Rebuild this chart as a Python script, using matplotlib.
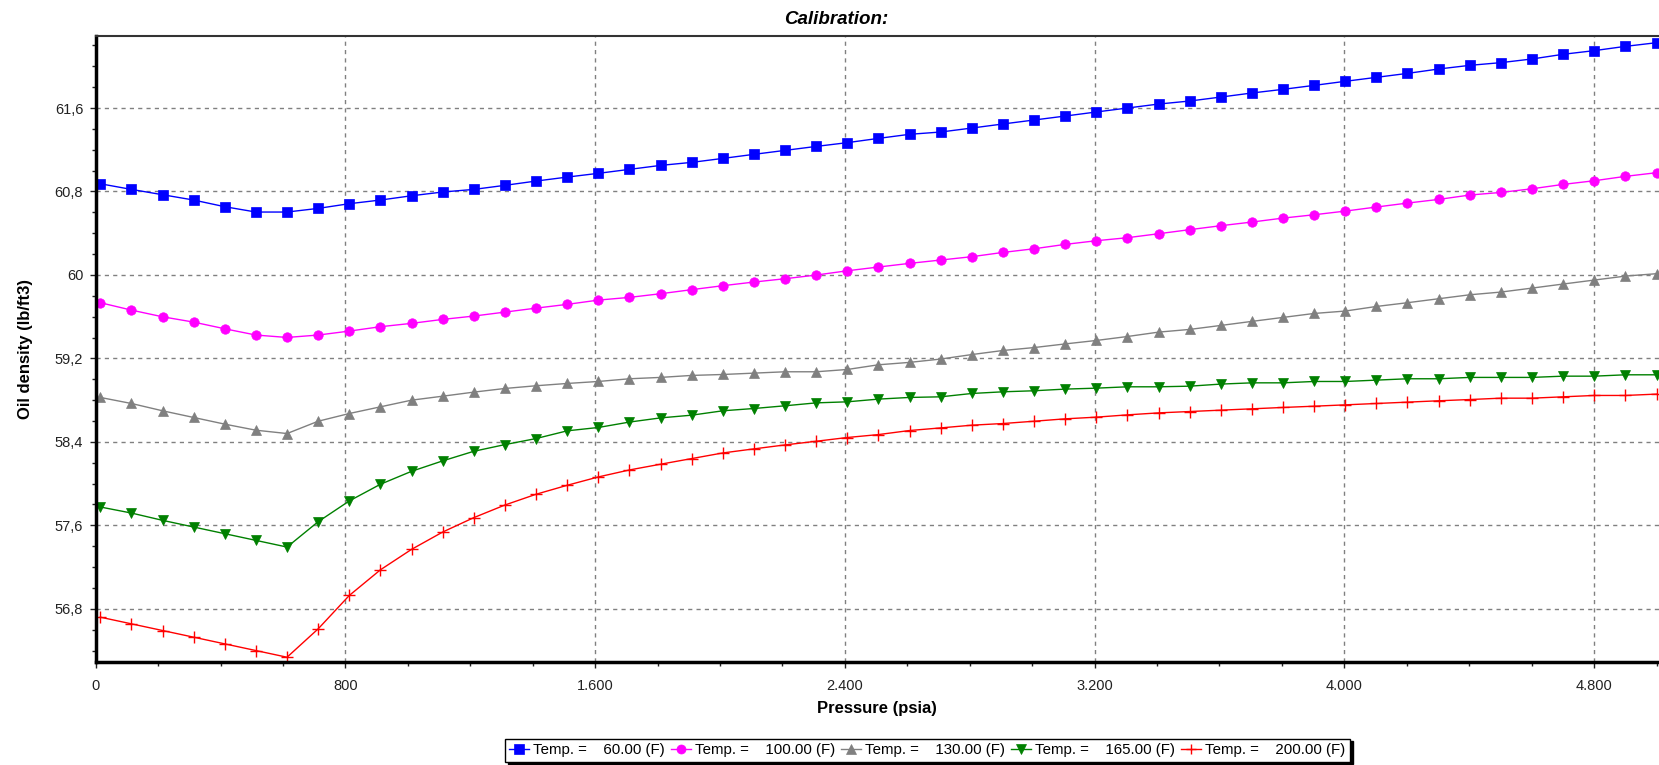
import matplotlib
matplotlib.use("Agg")
import matplotlib.pyplot as plt
from matplotlib.ticker import FixedLocator, MultipleLocator

plt.rcParams['font.family'] = ['Liberation Sans', 'DejaVu Sans']

# pressure grid (psia), 51 points from 14.7 to 5000
pressure = [14.7, 114.4, 214.1, 313.8, 413.5, 513.2, 612.9, 712.6, 812.3, 912.1,
            1011.8, 1111.5, 1211.2, 1310.9, 1410.6, 1510.3, 1610.0, 1709.7, 1809.4, 1909.1,
            2008.8, 2108.5, 2208.2, 2307.9, 2407.6, 2507.4, 2607.1, 2706.8, 2806.5, 2906.2,
            3005.9, 3105.6, 3205.3, 3305.0, 3404.7, 3504.4, 3604.1, 3703.8, 3803.5, 3903.2,
            4002.9, 4102.6, 4202.3, 4302.0, 4401.8, 4501.5, 4601.2, 4700.9, 4800.6, 4900.3,
            5000.0]

temps = [60, 100, 130, 165, 200]

# oil density (lb/ft3) per temperature
dens_60 = [60.874, 60.820, 60.769, 60.718, 60.654, 60.603, 60.603, 60.638, 60.683, 60.718,
           60.759, 60.795, 60.820, 60.859, 60.900, 60.938, 60.974, 61.012, 61.050, 61.079,
           61.117, 61.156, 61.194, 61.232, 61.268, 61.309, 61.348, 61.370, 61.408, 61.447,
           61.485, 61.523, 61.562, 61.600, 61.638, 61.667, 61.705, 61.744, 61.779, 61.817,
           61.856, 61.894, 61.932, 61.974, 62.009, 62.035, 62.070, 62.115, 62.150, 62.191,
           62.226]
dens_100 = [59.734, 59.663, 59.599, 59.548, 59.484, 59.424, 59.401, 59.424, 59.462, 59.504,
            59.536, 59.574, 59.606, 59.644, 59.682, 59.718, 59.759, 59.785, 59.820, 59.859,
            59.897, 59.932, 59.964, 59.999, 60.040, 60.076, 60.111, 60.143, 60.175, 60.216,
            60.251, 60.293, 60.328, 60.357, 60.395, 60.434, 60.472, 60.507, 60.545, 60.577,
            60.612, 60.651, 60.689, 60.724, 60.766, 60.791, 60.826, 60.868, 60.903, 60.945,
            60.980]
dens_130 = [58.826, 58.768, 58.698, 58.634, 58.570, 58.512, 58.480, 58.598, 58.672, 58.736,
            58.800, 58.838, 58.877, 58.912, 58.938, 58.960, 58.979, 59.005, 59.018, 59.037,
            59.046, 59.059, 59.072, 59.072, 59.094, 59.139, 59.162, 59.194, 59.237, 59.276,
            59.304, 59.339, 59.372, 59.410, 59.452, 59.478, 59.516, 59.555, 59.593, 59.631,
            59.654, 59.698, 59.734, 59.772, 59.810, 59.836, 59.874, 59.913, 59.951, 59.989,
            60.012]
dens_165 = [57.776, 57.718, 57.648, 57.584, 57.520, 57.456, 57.392, 57.635, 57.834, 57.994,
            58.118, 58.218, 58.310, 58.374, 58.432, 58.506, 58.538, 58.590, 58.630, 58.656,
            58.698, 58.720, 58.746, 58.774, 58.784, 58.810, 58.826, 58.832, 58.864, 58.880,
            58.890, 58.906, 58.915, 58.928, 58.928, 58.934, 58.954, 58.966, 58.966, 58.979,
            58.979, 58.992, 59.005, 59.005, 59.018, 59.018, 59.018, 59.030, 59.030, 59.043,
            59.043]
dens_200 = [56.720, 56.656, 56.592, 56.528, 56.464, 56.400, 56.336, 56.608, 56.928, 57.174,
            57.370, 57.536, 57.674, 57.795, 57.898, 57.984, 58.064, 58.131, 58.186, 58.240,
            58.294, 58.333, 58.371, 58.406, 58.442, 58.470, 58.509, 58.534, 58.560, 58.576,
            58.598, 58.621, 58.637, 58.659, 58.678, 58.691, 58.704, 58.717, 58.730, 58.742,
            58.755, 58.768, 58.781, 58.794, 58.806, 58.819, 58.819, 58.832, 58.845, 58.845,
            58.858]

xticks = [0, 800, 1600, 2400, 3200, 4000, 4800]
xtick_labels = ['0', '800', '1.600', '2.400', '3.200', '4.000', '4.800']
yticks = [56.8, 57.6, 58.4, 59.2, 60.0, 60.8, 61.6]
ytick_labels = ['56,8', '57,6', '58,4', '59,2', '60', '60,8', '61,6']

series = [dens_60, dens_100, dens_130, dens_165, dens_200]
colors = ['#0000ff', '#ff00ff', '#808080', '#008000', '#ff0000']
markers = ['s', 'o', '^', 'v', '+']
msizes = [7.8, 6.8, 7.8, 7.8, 8.5]

fig = plt.figure(figsize=(16.59, 7.65), dpi=100)
ax = fig.add_axes([0.0577, 0.1346, 0.9423, 0.8183])

for t, dens, c, m, ms in zip(temps, series, colors, markers, msizes):
    ax.plot(pressure, dens, color=c, lw=1.0, marker=m, ms=ms,
            mfc=c, mec=c, mew=1.0 if m == '+' else 0.5,
            label='Temp. =    %.2f (F)' % t, clip_on=True)

ax.set_xlim(0, 5008)
ax.set_ylim(56.29, 62.29)
ax.xaxis.set_major_locator(FixedLocator(xticks))
ax.set_xticklabels(xtick_labels)
ax.yaxis.set_major_locator(FixedLocator(yticks))
ax.set_yticklabels(ytick_labels)
ax.xaxis.set_minor_locator(MultipleLocator(200))
ax.yaxis.set_minor_locator(MultipleLocator(0.2))
ax.tick_params(which='both', direction='out', labelsize=10.5, colors='#222222')
ax.tick_params(which='major', length=4, width=1)
ax.tick_params(which='minor', length=3, width=1)
ax.tick_params(axis='x', pad=8)
ax.tick_params(axis='y', pad=5)

ax.grid(True, which='major', color='#808080', linestyle=(0, (3, 3)), linewidth=1.0)

ax.spines['right'].set_visible(False)
ax.spines['top'].set_color('#333333')
ax.spines['top'].set_linewidth(1.5)
ax.spines['left'].set_linewidth(2.5)
ax.spines['bottom'].set_linewidth(2.5)

ax.set_xlabel('Pressure (psia)', fontsize=12, fontweight='bold', labelpad=6)
ax.set_ylabel('Oil density (lb/ft3)', fontsize=12, fontweight='bold', labelpad=16)
fig.text(0.504, 0.975, 'Calibration:', fontsize=13.5, fontweight='bold',
         style='italic', ha='center', va='center')

leg = ax.legend(loc='center', bbox_to_anchor=(0.559, 0.0196),
                bbox_transform=fig.transFigure, ncol=5, frameon=True,
                fancybox=False, shadow={'color': 'black', 'alpha': 1},
                handlelength=1.3, handletextpad=0.3, columnspacing=0.4,
                borderpad=0.3, borderaxespad=0,
                prop={'family': ['Liberation Sans Narrow', 'Liberation Sans'], 'size': 10.8})
leg.get_frame().set_edgecolor('black')
leg.get_frame().set_linewidth(1.0)
for line in leg.get_lines():
    line.set_markersize(6.5)

fig.savefig('out.png', dpi=100)
